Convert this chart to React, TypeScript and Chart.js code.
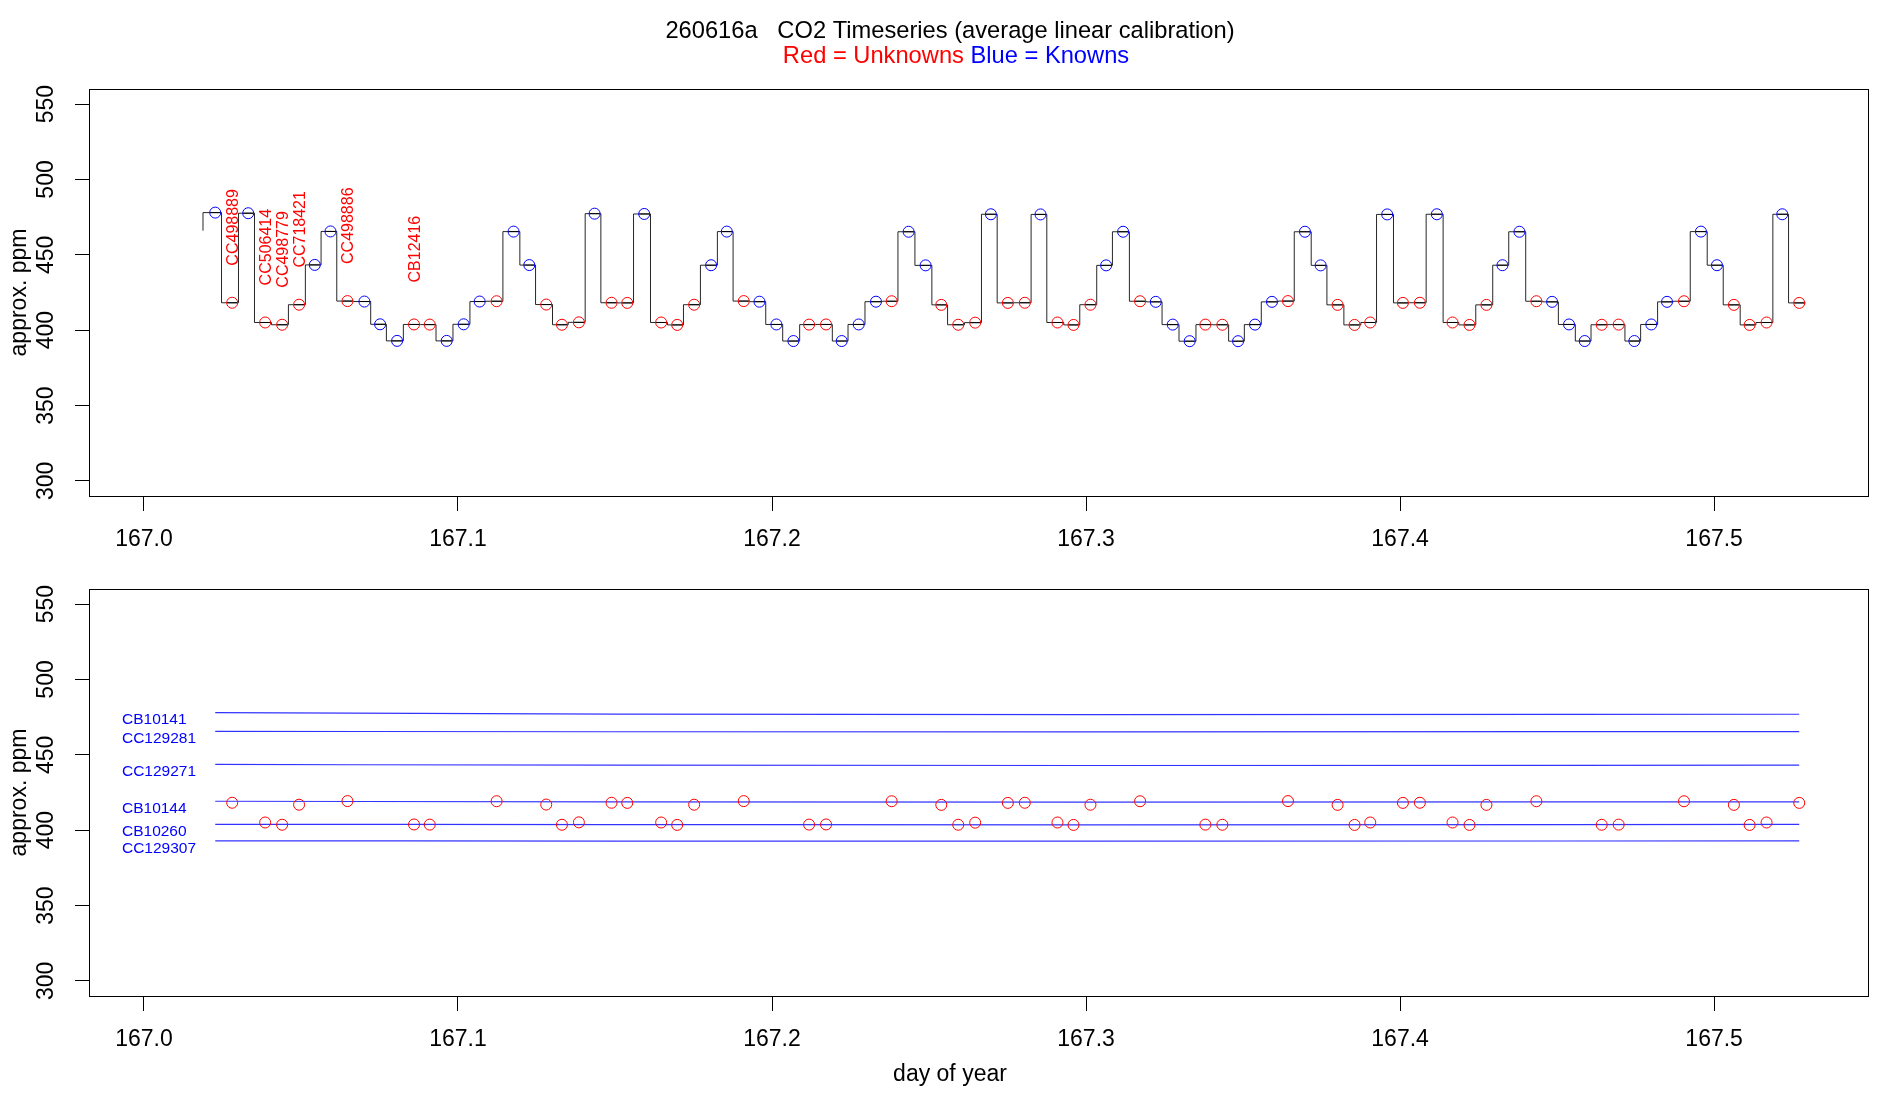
import { useEffect, useRef } from 'react';
import { Chart, registerables } from 'chart.js';

Chart.register(...registerables);

const FONT = '"Liberation Sans", Arial, Helvetica, sans-serif';

const TITLE = '260616a   CO2 Timeseries (average linear calibration)';
const KEY_UNKNOWN = 'Red = Unknowns';
const KEY_KNOWN = 'Blue = Knowns';
const X_TITLE = 'day of year';
const Y_TITLE = 'approx. ppm';

// axis ticks
const dayTicks = [167.0, 167.1, 167.2, 167.3, 167.4, 167.5];
const ppmTicks = [300, 350, 400, 450, 500, 550];

// calibration standards (knowns)
const standardTanks = ['CB10141', 'CC129281', 'CC129271', 'CB10144', 'CB10260', 'CC129307'];

// end of each averaging window, day of year
const sampleTimes = [
  167.0227, 167.0281, 167.0332, 167.0386, 167.0440, 167.0494, 167.0544, 167.0594, 167.0648, 167.0702,
  167.0752, 167.0806, 167.0860, 167.0910, 167.0964, 167.1018, 167.1069, 167.1123, 167.1177, 167.1227,
  167.1281, 167.1331, 167.1385, 167.1435, 167.1489, 167.1539, 167.1593, 167.1647, 167.1698, 167.1752,
  167.1806, 167.1856, 167.1910, 167.1960, 167.2014, 167.2068, 167.2118, 167.2172, 167.2222, 167.2276,
  167.2331, 167.2381, 167.2435, 167.2489, 167.2539, 167.2593, 167.2647, 167.2697, 167.2751, 167.2805,
  167.2855, 167.2909, 167.2960, 167.3014, 167.3064, 167.3118, 167.3172, 167.3222, 167.3276, 167.3330,
  167.3380, 167.3434, 167.3484, 167.3538, 167.3592, 167.3643, 167.3697, 167.3747, 167.3801, 167.3855,
  167.3905, 167.3959, 167.4009, 167.4063, 167.4117, 167.4167, 167.4221, 167.4275, 167.4326, 167.4380,
  167.4434, 167.4484, 167.4538, 167.4588, 167.4642, 167.4696, 167.4746, 167.4800, 167.4850, 167.4904,
  167.4958, 167.5009, 167.5063, 167.5113, 167.5167, 167.5217, 167.5271,
];

// averaged CO2 for each window, ppm
const sampleValues = [
  478.0, 418.2, 477.6, 405.1, 403.6, 416.9, 443.3, 465.5, 419.3, 419.0,
  403.9, 392.9, 403.8, 403.7, 392.9, 403.9, 419.0, 419.2, 465.4, 443.2,
  417.0, 403.6, 405.2, 477.3, 418.2, 418.1, 477.1, 405.1, 403.5, 416.9,
  443.1, 465.4, 419.3, 418.9, 403.8, 392.8, 403.7, 403.8, 392.8, 403.8,
  418.9, 419.2, 465.3, 443.0, 416.8, 403.6, 405.0, 476.9, 418.1, 418.2,
  476.8, 405.1, 403.5, 416.9, 443.0, 465.3, 419.2, 418.8, 403.7, 392.7,
  403.7, 403.6, 392.7, 403.7, 418.8, 419.3, 465.3, 443.0, 416.8, 403.5,
  405.1, 476.8, 418.1, 418.2, 476.9, 405.1, 403.5, 416.8, 443.1, 465.3,
  419.2, 418.8, 403.8, 392.8, 403.6, 403.7, 392.8, 403.8, 418.8, 419.2,
  465.4, 443.1, 416.8, 403.5, 405.1, 476.9, 418.1,
];

// tank on the inlet for each window
const sampleTanks = [
  'CB10141', 'CC498889', 'CB10141', 'CC506414', 'CC498779', 'CC718421', 'CC129271', 'CC129281', 'CC498886', 'CB10144',
  'CB10260', 'CC129307', 'CB12416', 'CB12416', 'CC129307', 'CB10260', 'CB10144', 'CC498886', 'CC129281', 'CC129271',
  'CC718421', 'CC498779', 'CC506414', 'CB10141', 'CC498889', 'CC498889', 'CB10141', 'CC506414', 'CC498779', 'CC718421',
  'CC129271', 'CC129281', 'CC498886', 'CB10144', 'CB10260', 'CC129307', 'CB12416', 'CB12416', 'CC129307', 'CB10260',
  'CB10144', 'CC498886', 'CC129281', 'CC129271', 'CC718421', 'CC498779', 'CC506414', 'CB10141', 'CC498889', 'CC498889',
  'CB10141', 'CC506414', 'CC498779', 'CC718421', 'CC129271', 'CC129281', 'CC498886', 'CB10144', 'CB10260', 'CC129307',
  'CB12416', 'CB12416', 'CC129307', 'CB10260', 'CB10144', 'CC498886', 'CC129281', 'CC129271', 'CC718421', 'CC498779',
  'CC506414', 'CB10141', 'CC498889', 'CC498889', 'CB10141', 'CC506414', 'CC498779', 'CC718421', 'CC129271', 'CC129281',
  'CC498886', 'CB10144', 'CB10260', 'CC129307', 'CB12416', 'CB12416', 'CC129307', 'CB10260', 'CB10144', 'CC498886',
  'CC129281', 'CC129271', 'CC718421', 'CC498779', 'CC506414', 'CB10141', 'CC498889',
];

// first raw reading of the record
const traceStartTime = 167.0188;
const traceStartValue = 466.0;

// smoothed standard responses used for the calibration
const fitTimes = [167.0227, 167.15, 167.3, 167.5271];
const fitCB10141 = [478.0, 477.0, 476.7, 476.9];
const fitCC129281 = [465.6, 465.3, 465.2, 465.4];
const fitCC129271 = [443.6, 443.1, 442.9, 443.1];
const fitCB10144 = [419.2, 418.8, 418.6, 418.8];
const fitCB10260 = [403.9, 403.7, 403.5, 403.8];
const fitCC129307 = [392.9, 392.8, 392.7, 392.9];
const fitLines = [fitCB10141, fitCC129281, fitCC129271, fitCB10144, fitCB10260, fitCC129307];
const fitLabelTime = 166.993;

// plot ranges and presentation constants
const X_MIN = 166.9825;
const X_MAX = 167.549;
const Y_MIN = 290;
const Y_MAX = 560;
const SWITCH_LAG = 0.002; // valve switch after each averaging window, days
const LABEL_LIFT = 50; // tank-name labels sit this many ppm above their sample

const RED = '#ff0000';
const BLUE = '#0000ff';

const isKnown = (tank: string) => standardTanks.includes(tank);
const unknownIdx = sampleTanks.map((t, i) => i).filter((i) => !isKnown(sampleTanks[i]));
const knownIdx = sampleTanks.map((t, i) => i).filter((i) => isKnown(sampleTanks[i]));
const firstUnknownIdx = unknownIdx.filter((i) => sampleTanks.indexOf(sampleTanks[i]) === i);

const pts = (idx: number[]) => idx.map((i) => ({ x: sampleTimes[i], y: sampleValues[i] }));

function xAxis(height: number) {
  return {
    type: 'linear' as const,
    min: X_MIN,
    max: X_MAX,
    afterBuildTicks: (s: any) => {
      s.ticks = dayTicks.map((v) => ({ value: v }));
    },
    afterFit: (s: any) => {
      s.height = height;
    },
    border: { display: false },
    grid: { drawOnChartArea: false, drawTicks: true, tickLength: 15, color: '#000', lineWidth: 1 },
    ticks: {
      color: '#000',
      padding: 15,
      font: { family: FONT, size: 23 },
      maxRotation: 0,
      minRotation: 0,
      autoSkip: false,
      callback: (v: any) => Number(v).toFixed(1),
    },
  };
}

function yAxis() {
  return {
    type: 'linear' as const,
    min: Y_MIN,
    max: Y_MAX,
    afterBuildTicks: (s: any) => {
      s.ticks = ppmTicks.map((v) => ({ value: v }));
    },
    afterFit: (s: any) => {
      s.width = 89;
    },
    border: { display: false },
    grid: { drawOnChartArea: false, drawTicks: true, tickLength: 14, color: '#000', lineWidth: 1 },
    ticks: {
      color: '#000',
      padding: 9.5,
      crossAlign: 'center' as const,
      minRotation: 90,
      maxRotation: 90,
      autoSkip: false,
      font: { family: FONT, size: 23 },
      callback: (v: any) => String(v),
    },
    title: {
      display: true,
      text: Y_TITLE,
      color: '#000',
      font: { family: FONT, size: 23 },
      padding: { top: 6, bottom: 0 },
    },
  };
}

const framePlugin = {
  id: 'frame',
  afterDraw(chart: any) {
    const { ctx, chartArea: a } = chart;
    ctx.save();
    ctx.strokeStyle = '#000';
    ctx.lineWidth = 1;
    const l = Math.round(a.left) + 0.5;
    const t = Math.round(a.top) + 0.5;
    ctx.strokeRect(l, t, Math.round(a.right) - Math.round(a.left), Math.round(a.bottom) - Math.round(a.top));
    ctx.restore();
  },
};

const headerPlugin = {
  id: 'header',
  afterDraw(chart: any) {
    const { ctx } = chart;
    ctx.save();
    ctx.font = `23.7px ${FONT}`;
    ctx.textBaseline = 'middle';
    ctx.textAlign = 'center';
    ctx.fillStyle = '#000';
    ctx.fillText(TITLE, 950, 31.5);
    const wa = ctx.measureText(KEY_UNKNOWN).width;
    const wb = ctx.measureText(KEY_KNOWN).width;
    const gap = ctx.measureText(' ').width;
    const start = 956 - (wa + gap + wb) / 2;
    ctx.textAlign = 'left';
    ctx.fillStyle = RED;
    ctx.fillText(KEY_UNKNOWN, start, 56.5);
    ctx.fillStyle = BLUE;
    ctx.fillText(KEY_KNOWN, start + wa + gap, 56.5);
    ctx.restore();
  },
};

const tankLabelPlugin = {
  id: 'tankLabels',
  afterDatasetsDraw(chart: any) {
    const { ctx } = chart;
    const xs = chart.scales.x;
    const ys = chart.scales.y;
    ctx.save();
    ctx.font = `16px ${FONT}`;
    ctx.fillStyle = RED;
    ctx.textAlign = 'center';
    ctx.textBaseline = 'middle';
    firstUnknownIdx.forEach((i) => {
      const px = xs.getPixelForValue(sampleTimes[i]) + 1.5;
      const py = ys.getPixelForValue(sampleValues[i] + LABEL_LIFT);
      ctx.save();
      ctx.translate(px, py);
      ctx.rotate(-Math.PI / 2);
      ctx.fillText(sampleTanks[i], 0, 0);
      ctx.restore();
    });
    ctx.restore();
  },
};

const standardLabelPlugin = {
  id: 'standardLabels',
  afterDatasetsDraw(chart: any) {
    const { ctx } = chart;
    const xs = chart.scales.x;
    const ys = chart.scales.y;
    ctx.save();
    ctx.font = `15.5px ${FONT}`;
    ctx.fillStyle = BLUE;
    ctx.textAlign = 'left';
    ctx.textBaseline = 'middle';
    standardTanks.forEach((name, k) => {
      const px = xs.getPixelForValue(fitLabelTime);
      const py = ys.getPixelForValue(fitLines[k][0]) + 7.5;
      ctx.fillText(name, px, py);
    });
    ctx.font = `23px ${FONT}`;
    ctx.fillStyle = '#000';
    ctx.textAlign = 'center';
    ctx.fillText(X_TITLE, 950, 525);
    ctx.restore();
  },
};

const circleStyle = (color: string) => ({
  showLine: false,
  pointStyle: 'circle' as const,
  pointRadius: 5.5,
  pointBorderWidth: 1,
  pointBorderColor: color,
  borderColor: color,
  pointBackgroundColor: 'rgba(0,0,0,0)',
  backgroundColor: 'rgba(0,0,0,0)',
});

function topConfig(): any {
  const trace = [
    { x: traceStartTime, y: traceStartValue },
    ...sampleTimes.map((t, i) => ({ x: t + SWITCH_LAG, y: sampleValues[i] })),
  ];
  return {
    type: 'line',
    data: {
      datasets: [
        { label: 'unknowns', data: pts(unknownIdx), order: 0, ...circleStyle(RED) },
        { label: 'knowns', data: pts(knownIdx), order: 0, ...circleStyle(BLUE) },
        {
          label: 'window',
          data: pts(sampleTimes.map((t, i) => i)),
          order: 1,
          showLine: false,
          pointStyle: 'line',
          pointRadius: 5,
          pointBorderWidth: 1,
          pointBorderColor: '#000',
          borderColor: '#000',
        },
        {
          label: 'raw',
          data: trace,
          order: 2,
          stepped: 'after',
          borderColor: 'rgba(0,0,0,0.85)',
          borderWidth: 1,
          pointRadius: 0,
          fill: false,
        },
      ],
    },
    options: {
      responsive: false,
      devicePixelRatio: 1,
      animation: false,
      events: [],
      layout: { padding: { top: 89, right: 32, bottom: 0, left: 0 } },
      plugins: { legend: { display: false }, tooltip: { enabled: false }, title: { display: false } },
      scales: { x: xAxis(54), y: yAxis() },
    },
    plugins: [framePlugin, headerPlugin, tankLabelPlugin],
  };
}

function bottomConfig(): any {
  const lines = standardTanks.map((name, k) => ({
    label: name,
    data: fitTimes.map((t, j) => ({ x: t, y: fitLines[k][j] })),
    order: 1,
    borderColor: 'rgba(0,0,255,0.8)',
    borderWidth: 1.2,
    pointRadius: 0,
    cubicInterpolationMode: 'monotone',
    fill: false,
  }));
  return {
    type: 'line',
    data: {
      datasets: [{ label: 'unknowns', data: pts(unknownIdx), order: 0, ...circleStyle(RED) }, ...lines],
    },
    options: {
      responsive: false,
      devicePixelRatio: 1,
      animation: false,
      events: [],
      layout: { padding: { top: 39, right: 32, bottom: 0, left: 0 } },
      plugins: { legend: { display: false }, tooltip: { enabled: false }, title: { display: false } },
      scales: { x: xAxis(104), y: yAxis() },
    },
    plugins: [framePlugin, standardLabelPlugin],
  };
}

export default function App() {
  const topRef = useRef<HTMLCanvasElement>(null);
  const bottomRef = useRef<HTMLCanvasElement>(null);

  useEffect(() => {
    Chart.defaults.font.family = FONT;
    const top = new Chart(topRef.current as HTMLCanvasElement, topConfig());
    const bottom = new Chart(bottomRef.current as HTMLCanvasElement, bottomConfig());
    return () => {
      top.destroy();
      bottom.destroy();
    };
  }, []);

  return (
    <div style={{ position: 'fixed', left: 0, top: 0, width: 1900, height: 1100, background: '#fff' }}>
      <canvas ref={topRef} width={1900} height={550} style={{ position: 'absolute', left: 0, top: 0 }} />
      <canvas ref={bottomRef} width={1900} height={550} style={{ position: 'absolute', left: 0, top: 550 }} />
    </div>
  );
}
